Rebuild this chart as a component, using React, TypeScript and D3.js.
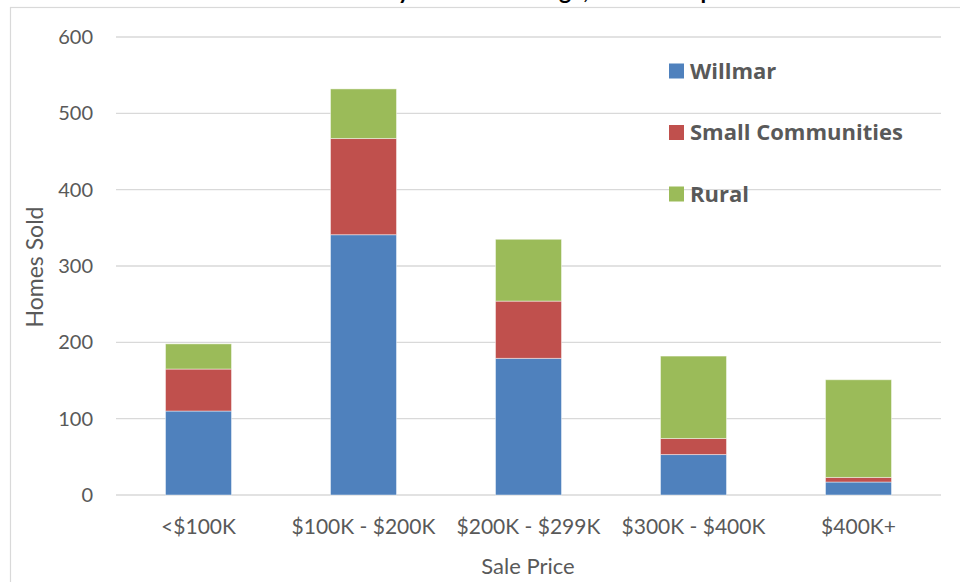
import React, { useRef, useEffect } from "react";
import { select, scaleBand, scaleLinear, stack } from "d3";

// data
const categories = ["<$100K", "$100K - $200K", "$200K - $299K", "$300K - $400K", "$400K+"];
const seriesNames = ["Willmar", "Small Communities", "Rural"];
const willmar = [110, 341, 179, 53, 17];
const smallCommunities = [55, 126, 75, 21, 6];
const rural = [33, 65, 81, 108, 128];
const yTicks = [0, 100, 200, 300, 400, 500, 600];
const colors = ["#4F81BD", "#C0504D", "#9BBB59"];

const FONT = "Lato, 'Open Sans', sans-serif";
const GREY = "#595959";

function StackedChart() {
  const svgRef = useRef<SVGSVGElement>(null);

  useEffect(() => {
    const svg = select(svgRef.current);
    svg.selectAll("*").remove();

    const rows = categories.map((c, i) => ({
      cat: c,
      Willmar: willmar[i],
      "Small Communities": smallCommunities[i],
      Rural: rural[i],
    }));

    //scales
    const x = scaleBand<string>()
      .domain(categories)
      .range([116, 941])
      .paddingInner(0.6)
      .paddingOuter(0.3);
    const y = scaleLinear().domain([0, 600]).range([495, 37]);

    // frame
    svg
      .append("rect")
      .attr("x", 10.5)
      .attr("y", 7.5)
      .attr("width", 1000)
      .attr("height", 700)
      .attr("fill", "#fff")
      .attr("stroke", "#d9d9d9")
      .attr("stroke-width", 1.2);

    // title (cut off by the top edge, like the reference)
    svg
      .append("text")
      .attr("x", 257)
      .attr("y", -1)
      .attr("font-family", FONT)
      .attr("font-weight", "bold")
      .attr("font-size", 23)
      .attr("fill", "#000")
      .text("Homes Sold by Sale Price Range, 2017 Comparison");

    //grid + y ticks
    svg
      .append("g")
      .selectAll("line")
      .data(yTicks)
      .join("line")
      .attr("x1", 116)
      .attr("x2", 941)
      .attr("y1", (d) => y(d))
      .attr("y2", (d) => y(d))
      .attr("stroke", "#d9d9d9")
      .attr("stroke-width", 1.4);

    svg
      .append("g")
      .selectAll("text")
      .data(yTicks)
      .join("text")
      .attr("x", 93)
      .attr("y", (d) => y(d))
      .attr("dy", "0.35em")
      .attr("text-anchor", "end")
      .attr("font-family", FONT)
      .attr("font-size", 20)
      .attr("fill", GREY)
      .text((d) => d);

    //bars
    const stacked = stack<any>().keys(seriesNames)(rows);
    svg
      .append("g")
      .selectAll("g")
      .data(stacked)
      .join("g")
      .attr("fill", (d, i) => colors[i])
      .selectAll("rect")
      .data((d) => d)
      .join("rect")
      .attr("x", (d) => x(d.data.cat)!)
      .attr("width", x.bandwidth())
      .attr("y", (d) => y(d[1]))
      .attr("height", (d) => y(d[0]) - y(d[1]))
      .attr("stroke", "rgba(255,255,255,0.45)")
      .attr("stroke-width", 1);

    //x labels
    svg
      .append("g")
      .selectAll("text")
      .data(categories)
      .join("text")
      .attr("x", (d) => x(d)! + x.bandwidth() / 2)
      .attr("y", 527)
      .attr("dy", "0.35em")
      .attr("text-anchor", "middle")
      .attr("font-family", FONT)
      .attr("font-size", 21)
      .attr("fill", GREY)
      .text((d) => d);

    // axis titles
    svg
      .append("text")
      .attr("x", 528)
      .attr("y", 566)
      .attr("dy", "0.35em")
      .attr("text-anchor", "middle")
      .attr("font-family", FONT)
      .attr("font-size", 22)
      .attr("fill", GREY)
      .text("Sale Price");

    svg
      .append("text")
      .attr("transform", "translate(35,267) rotate(-90)")
      .attr("dy", "0.35em")
      .attr("text-anchor", "middle")
      .attr("font-family", FONT)
      .attr("font-size", 23)
      .attr("fill", GREY)
      .text("Homes Sold");

    //legend
    const legend = svg
      .append("g")
      .selectAll("g")
      .data(seriesNames)
      .join("g")
      .attr("transform", (d, i) => `translate(669,${71 + i * 61.5})`);
    legend
      .append("rect")
      .attr("x", 0)
      .attr("y", -7.5)
      .attr("width", 15)
      .attr("height", 15)
      .attr("fill", (d, i) => colors[i]);
    legend
      .append("text")
      .attr("x", 21)
      .attr("dy", "0.36em")
      .attr("font-family", "'Open Sans', sans-serif")
      .attr("font-weight", "bold")
      .attr("font-size", 22)
      .attr("fill", GREY)
      .text((d) => d);
  }, []);

  return (
    <svg
      ref={svgRef}
      width={960}
      height={582}
      style={{ position: "absolute", left: 0, top: 0, background: "#fff" }}
    ></svg>
  );
}

export default function App() {
  return <StackedChart />;
}
